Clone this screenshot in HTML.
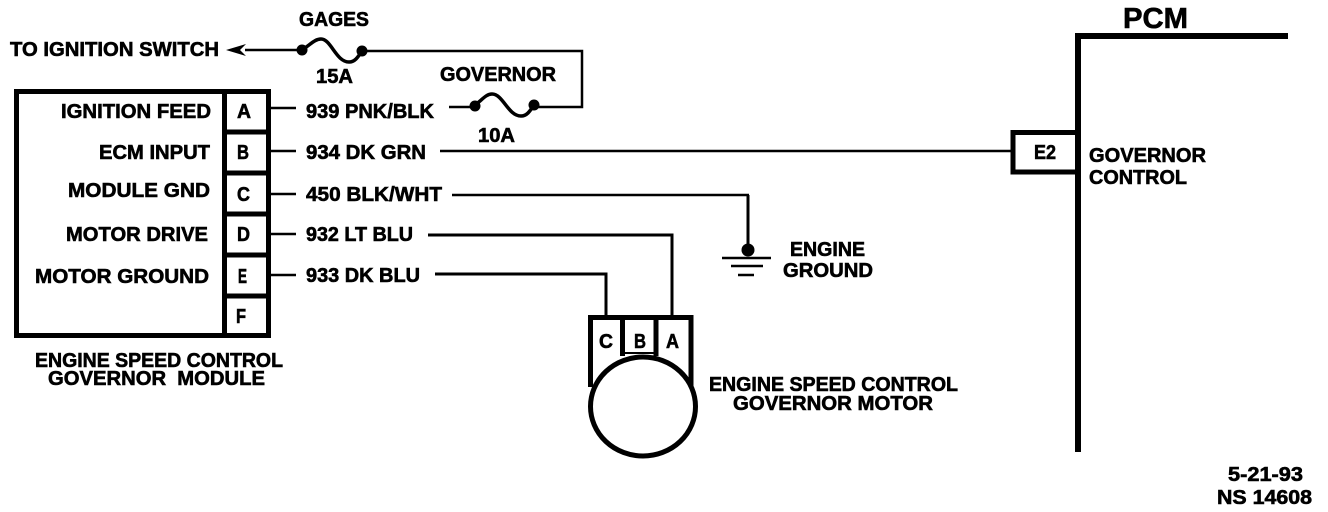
<!DOCTYPE html>
<html><head><meta charset="utf-8"><style>
html,body{margin:0;padding:0;background:#fff;width:1328px;height:512px;overflow:hidden}
svg{display:block}
text{font-family:"Liberation Sans",sans-serif;font-weight:700;font-size:20px;fill:#000;stroke:#000;stroke-width:.6}
.l{fill:none;stroke:#000;stroke-width:2.5}
.b{fill:none;stroke:#000;stroke-width:5}
</style></head><body>
<svg width="1328" height="512" viewBox="0 0 1328 512" xmlns="http://www.w3.org/2000/svg">
<rect width="1328" height="512" fill="#fff"/>
<!-- module -->
<rect class="b" x="16.5" y="91.5" width="252" height="244"/>
<path class="b" d="M224.5 91.5V335.5M224.5 132H268.5M224.5 173H268.5M224.5 214H268.5M224.5 255H268.5M224.5 296H268.5"/>
<!-- wires -->
<path class="l" d="M271 108H296M271 151H296M271 194H296M271 234H296M271 275H296"/>
<path class="l" d="M245 50H302M362 51H582V107H534M449 107H475"/>
<path d="M226 50L246 44L240 50L246 56Z" fill="#000"/>
<path class="l" style="stroke-width:3.5" d="M302 50C311 44 315 39 321 39C331 39 336 62 349 62C355 62 358 57 362 51"/>
<circle cx="302" cy="50" r="5.5"/><circle cx="362" cy="51" r="5.5"/>
<path class="l" style="stroke-width:3.5" d="M475 105C482 100 486 94 492 94C503 94 508 116 521 116C527 116 530 111 534 105"/>
<circle cx="475" cy="106" r="5.5"/><circle cx="534" cy="105" r="5.5"/>
<path class="l" d="M440 151H1012M452 195H749"/>
<path class="l" style="stroke-width:3" d="M748 195V250M428 235H672V316M435 274H606V316"/>
<!-- ground -->
<circle cx="748" cy="250" r="6.5"/>
<path class="l" d="M722 258H771M731 266H763M738 275H754"/>
<!-- motor -->
<path class="b" d="M590.5 387V317.5H691V387M622.5 317.5V356M656 317.5V356"/>
<path class="l" style="stroke-width:2" d="M622.5 353H656"/>
<ellipse cx="643" cy="406.5" rx="52.5" ry="49.5" fill="#fff" stroke="#000" stroke-width="5"/>
<!-- PCM -->
<path d="M1288 36H1078V452" fill="none" stroke="#000" stroke-width="6"/>
<path class="b" d="M1078 132.5H1013V172H1078"/>
<!-- text -->
<text x="299" y="26" textLength="70" lengthAdjust="spacingAndGlyphs">GAGES</text>
<text x="10" y="56" textLength="209" lengthAdjust="spacingAndGlyphs">TO IGNITION SWITCH</text>
<text x="316" y="83" textLength="37" lengthAdjust="spacingAndGlyphs">15A</text>
<text x="440" y="81" textLength="116" lengthAdjust="spacingAndGlyphs">GOVERNOR</text>
<text x="478" y="142" textLength="37" lengthAdjust="spacingAndGlyphs">10A</text>
<text x="61" y="118" textLength="150" lengthAdjust="spacingAndGlyphs">IGNITION FEED</text>
<text x="99" y="159" textLength="111" lengthAdjust="spacingAndGlyphs">ECM INPUT</text>
<text x="68" y="197" textLength="142" lengthAdjust="spacingAndGlyphs">MODULE GND</text>
<text x="66" y="241" textLength="142" lengthAdjust="spacingAndGlyphs">MOTOR DRIVE</text>
<text x="35" y="283" textLength="174" lengthAdjust="spacingAndGlyphs">MOTOR GROUND</text>
<text x="237" y="118" textLength="14" lengthAdjust="spacingAndGlyphs">A</text>
<text x="237" y="159" textLength="12" lengthAdjust="spacingAndGlyphs">B</text>
<text x="237" y="201" textLength="13" lengthAdjust="spacingAndGlyphs">C</text>
<text x="237" y="241" textLength="13" lengthAdjust="spacingAndGlyphs">D</text>
<text x="238" y="283" textLength="9" lengthAdjust="spacingAndGlyphs">E</text>
<text x="236" y="323" textLength="10" lengthAdjust="spacingAndGlyphs">F</text>
<text x="306" y="118" textLength="128" lengthAdjust="spacingAndGlyphs">939 PNK/BLK</text>
<text x="306" y="159" textLength="120" lengthAdjust="spacingAndGlyphs">934 DK GRN</text>
<text x="306" y="201" textLength="136" lengthAdjust="spacingAndGlyphs">450 BLK/WHT</text>
<text x="306" y="241" textLength="107" lengthAdjust="spacingAndGlyphs">932 LT BLU</text>
<text x="306" y="282" textLength="114" lengthAdjust="spacingAndGlyphs">933 DK BLU</text>
<text x="35" y="367" textLength="248" lengthAdjust="spacingAndGlyphs">ENGINE SPEED CONTROL</text>
<text x="48" y="385" textLength="217" lengthAdjust="spacingAndGlyphs" xml:space="preserve">GOVERNOR  MODULE</text>
<text x="790" y="256" textLength="75" lengthAdjust="spacingAndGlyphs">ENGINE</text>
<text x="783" y="277" textLength="90" lengthAdjust="spacingAndGlyphs">GROUND</text>
<text x="599" y="348" textLength="14" lengthAdjust="spacingAndGlyphs">C</text>
<text x="634" y="348" textLength="12" lengthAdjust="spacingAndGlyphs">B</text>
<text x="666" y="348" textLength="13" lengthAdjust="spacingAndGlyphs">A</text>
<text x="709" y="391" textLength="249" lengthAdjust="spacingAndGlyphs">ENGINE SPEED CONTROL</text>
<text x="733" y="410" textLength="200" lengthAdjust="spacingAndGlyphs">GOVERNOR MOTOR</text>
<text x="1123" y="28" textLength="65" lengthAdjust="spacingAndGlyphs" style="font-size:29px">PCM</text>
<text x="1034" y="159" textLength="22" lengthAdjust="spacingAndGlyphs" style="font-size:20px">E2</text>
<text x="1089" y="162" textLength="117" lengthAdjust="spacingAndGlyphs">GOVERNOR</text>
<text x="1089" y="184" textLength="98" lengthAdjust="spacingAndGlyphs">CONTROL</text>
<text x="1228" y="481" textLength="75" lengthAdjust="spacingAndGlyphs">5-21-93</text>
<text x="1217" y="504" textLength="95" lengthAdjust="spacingAndGlyphs">NS 14608</text>
</svg>
</body></html>
